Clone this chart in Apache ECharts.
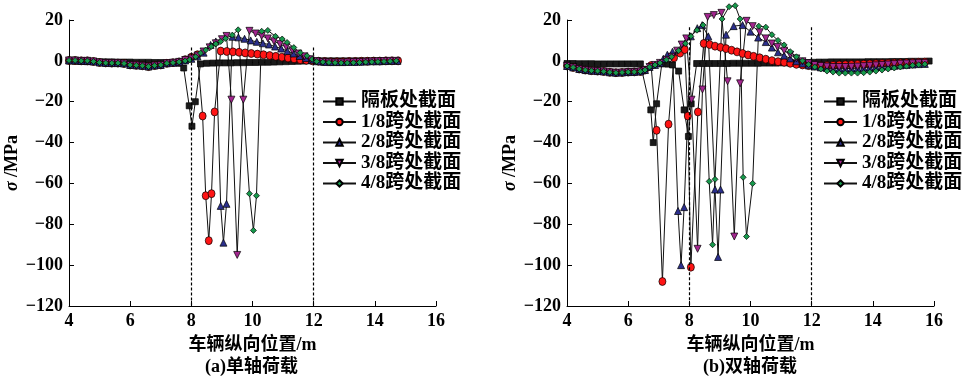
<!DOCTYPE html>
<html>
<head>
<meta charset="utf-8">
<script src="https://cdn.jsdelivr.net/npm/echarts@6/dist/echarts.min.js"></script>
<style>html,body{margin:0;padding:0;background:#fff}#c{width:974px;height:383px}</style>
</head>
<body>
<div id="c"></div>
<script>
// ---- data ----
const seriesNames = ['隔板处截面', '1/8跨处截面', '2/8跨处截面', '3/8跨处截面', '4/8跨处截面'];
const xTicks = [4, 6, 8, 10, 12, 14, 16];
const yTicks = [-120, -100, -80, -60, -40, -20, 0, 20];
const dashedPositions = [8, 12];
const captionLeft = '(a)单轴荷载';
const captionRight = '(b)双轴荷载';
const xName = '车辆纵向位置/m';

// (a) single axle
const leftDiaphragm = [[4.0,0],[4.2,-0.2],[4.4,-0.3],[4.6,-0.4],[4.8,-0.4],[5.0,-0.5],[5.2,-0.5],[5.4,-0.5],[5.6,-0.6],[5.8,-0.6],[6.0,-0.6],[6.2,-0.7],[6.4,-0.7],[6.6,-0.7],[6.8,-0.8],[7.0,-0.8],[7.2,-0.9],[7.4,-1.0],[7.6,-1.2],[7.75,-3.5],[7.93,-22],[8.02,-32],[8.13,-20],[8.3,-1.5],[8.5,-1.2],[8.7,-1.1],[8.9,-1.0],[9.1,-1.0],[9.3,-1.0],[9.5,-0.9],[9.7,-0.9],[9.9,-0.8],[10.1,-0.8],[10.3,-0.7],[10.5,-0.7],[10.7,-0.6],[10.9,-0.5],[11.1,-0.4],[11.3,-0.3],[11.5,-0.2],[11.7,-0.1],[11.9,0],[12.1,0],[12.3,0],[12.5,0],[12.7,0],[12.9,0],[13.1,0],[13.3,0],[13.5,0],[13.7,0],[13.9,0],[14.1,0],[14.3,0],[14.5,0],[14.7,0]];
const leftSpan1 = [[4.0,0.2],[4.2,0.2],[4.4,0],[4.6,0],[4.8,-0.3],[5.0,-0.8],[5.2,-1.0],[5.4,-1.1],[5.6,-1.1],[5.8,-1.3],[6.0,-2.0],[6.2,-2.2],[6.4,-2.4],[6.6,-2.8],[6.8,-2.3],[7.0,-2.0],[7.2,-1.2],[7.4,-0.9],[7.6,-0.5],[7.8,0.6],[8.0,1.8],[8.2,3.0],[8.37,-27],[8.47,-66],[8.57,-88],[8.66,-65],[8.76,-25],[8.96,4.8],[9.16,4.6],[9.36,4.4],[9.56,4.2],[9.76,3.9],[9.96,3.6],[10.16,3.3],[10.36,3.0],[10.56,2.6],[10.76,2.2],[10.96,1.8],[11.16,1.4],[11.36,1.0],[11.56,0.6],[11.76,0.3],[11.96,0],[12.16,-0.2],[12.36,-0.3],[12.56,-0.4],[12.76,-0.4],[12.96,-0.4],[13.16,-0.3],[13.36,-0.3],[13.56,-0.2],[13.76,-0.2],[13.96,-0.1],[14.16,-0.1],[14.36,0],[14.56,0],[14.76,0]];
const leftSpan2 = [[4.0,0.2],[4.2,0.2],[4.4,0],[4.6,0],[4.8,-0.3],[5.0,-0.8],[5.2,-1.0],[5.4,-1.1],[5.6,-1.1],[5.8,-1.3],[6.0,-2.0],[6.2,-2.2],[6.4,-2.4],[6.6,-2.8],[6.8,-2.3],[7.0,-2.0],[7.2,-1.2],[7.4,-0.9],[7.6,-0.5],[7.8,0.2],[8.0,1.0],[8.2,2.2],[8.4,4.0],[8.63,7.8],[8.8,9.5],[8.96,-71],[9.05,-89],[9.15,-70],[9.34,11.8],[9.54,11.5],[9.74,10.8],[9.94,10.0],[10.14,9.3],[10.34,8.6],[10.54,8.0],[10.74,7.0],[10.94,6.0],[11.14,4.8],[11.34,3.6],[11.54,2.4],[11.74,1.4],[11.94,0.5],[12.14,-0.2],[12.34,-0.5],[12.54,-0.6],[12.74,-0.6],[12.94,-0.6],[13.14,-0.5],[13.34,-0.5],[13.54,-0.4],[13.74,-0.3],[13.94,-0.2],[14.14,-0.2],[14.34,-0.1],[14.54,0],[14.74,0]];
const leftSpan3 = [[4.0,0.2],[4.2,0.2],[4.4,0],[4.6,0],[4.8,-0.3],[5.0,-0.8],[5.2,-1.0],[5.4,-1.1],[5.6,-1.1],[5.8,-1.3],[6.0,-2.0],[6.2,-2.2],[6.4,-2.4],[6.6,-2.8],[6.8,-2.3],[7.0,-2.0],[7.2,-1.2],[7.4,-0.9],[7.6,-0.5],[7.8,0.4],[8.0,1.2],[8.2,2.6],[8.4,4.6],[8.6,6.6],[8.8,8.6],[9.0,10.6],[9.15,12.2],[9.31,-19],[9.5,-95],[9.7,-19],[9.9,14.7],[10.1,13.4],[10.3,12.2],[10.5,11.0],[10.7,9.6],[10.9,8.2],[11.1,6.8],[11.3,5.2],[11.5,3.6],[11.7,2.2],[11.9,0.8],[12.1,-0.2],[12.3,-0.5],[12.5,-0.7],[12.7,-0.8],[12.9,-0.8],[13.1,-0.7],[13.3,-0.6],[13.5,-0.5],[13.7,-0.4],[13.9,-0.3],[14.1,-0.2],[14.3,-0.1],[14.5,0],[14.7,0]];
const leftSpan4 = [[4.0,0.2],[4.2,0.2],[4.4,0],[4.6,0],[4.8,-0.3],[5.0,-0.8],[5.2,-1.0],[5.4,-1.1],[5.6,-1.1],[5.8,-1.3],[6.0,-2.0],[6.2,-2.2],[6.4,-2.4],[6.6,-2.8],[6.8,-2.3],[7.0,-2.0],[7.2,-1.2],[7.4,-0.9],[7.6,-0.5],[7.8,0],[7.95,0.6],[8.14,2.0],[8.3,3.8],[8.47,5.3],[8.65,7.0],[8.8,8.3],[8.96,9.5],[9.12,11.0],[9.34,12.6],[9.53,15.2],[9.9,-65],[10.03,-83],[10.13,-66],[10.3,14.5],[10.5,14.9],[10.75,12.0],[10.97,10.7],[11.13,9.0],[11.35,6.5],[11.56,4.0],[11.78,2.5],[11.95,0.8],[12.1,-0.3],[12.3,-0.6],[12.5,-0.8],[12.7,-0.9],[12.9,-1.0],[13.1,-1.0],[13.3,-0.9],[13.5,-0.8],[13.7,-0.6],[13.9,-0.5],[14.1,-0.4],[14.3,-0.3],[14.5,-0.2],[14.7,0]];

// (b) double axle
const rightDiaphragm = [[4.0,-1.3],[4.2,-1.3],[4.4,-1.4],[4.6,-1.4],[4.8,-1.4],[5.0,-1.5],[5.2,-1.5],[5.4,-1.5],[5.6,-1.5],[5.8,-1.5],[6.0,-1.5],[6.2,-1.5],[6.4,-1.5],[6.74,-24],[6.82,-40],[6.93,-21],[7.1,-1.5],[7.3,-1.6],[7.45,-2],[7.65,-5],[7.83,-24],[7.97,-37],[8.06,-21],[8.24,-1.3],[8.44,-1.3],[8.64,-1.3],[8.84,-1.3],[9.04,-1.3],[9.24,-1.3],[9.44,-1.2],[9.64,-1.2],[9.84,-1.2],[10.04,-1.2],[10.24,-1.2],[10.44,-1.1],[10.64,-1.1],[10.84,-1.1],[11.04,-1.0],[11.24,-1.0],[11.44,-1.0],[11.64,-0.9],[11.84,-0.8],[12.04,-0.7],[12.24,-0.6],[12.44,-0.6],[12.64,-0.5],[12.84,-0.5],[13.04,-0.5],[13.24,-0.5],[13.44,-0.5],[13.64,-0.5],[13.84,-0.4],[14.04,-0.4],[14.24,-0.4],[14.44,-0.4],[14.64,-0.3],[14.84,-0.3],[15.04,-0.3],[15.24,-0.2],[15.44,-0.2],[15.64,-0.2],[15.84,-0.1]];
const rightSpan1 = [[4.0,-2.5],[4.2,-3.2],[4.4,-4.0],[4.6,-4.5],[4.8,-4.8],[5.0,-5.0],[5.2,-5.2],[5.4,-5.6],[5.6,-5.8],[5.8,-5.7],[6.0,-5.5],[6.2,-5.4],[6.4,-5.2],[6.55,-4.5],[6.75,-2.3],[6.93,-34],[7.12,-108],[7.32,-31],[7.5,1.5],[7.7,3.8],[7.85,5.5],[7.95,-27],[8.05,-101],[8.28,-25],[8.47,8.5],[8.66,8.0],[8.84,7.2],[9.02,6.6],[9.2,6.0],[9.38,5.2],[9.56,4.4],[9.74,3.6],[9.92,2.9],[10.1,2.2],[10.3,1.5],[10.5,0.8],[10.7,0.1],[10.9,-0.4],[11.1,-0.7],[11.3,-1.2],[11.5,-1.7],[11.7,-2.0],[11.9,-2.3],[12.1,-2.4],[12.3,-2.4],[12.5,-2.3],[12.7,-2.2],[12.9,-2.0],[13.1,-1.9],[13.3,-1.8],[13.5,-1.7],[13.7,-1.6],[13.9,-1.5],[14.1,-1.4],[14.3,-1.3],[14.5,-1.2],[14.7,-1.1],[14.9,-1.0],[15.1,-0.9],[15.3,-0.8],[15.5,-0.7],[15.7,-0.6]];
const rightSpan2 = [[4.0,-2.5],[4.2,-3.2],[4.4,-4.0],[4.6,-4.5],[4.8,-4.8],[5.0,-5.0],[5.2,-5.2],[5.4,-5.6],[5.6,-5.8],[5.8,-5.7],[6.0,-5.5],[6.2,-5.4],[6.4,-5.2],[6.55,-4.5],[6.7,-3.0],[6.88,-2.0],[7.04,-1.0],[7.15,1.0],[7.28,3.0],[7.45,4.5],[7.63,-73.5],[7.73,-100],[7.83,-71.6],[8.05,12.0],[8.26,16.0],[8.42,17.5],[8.62,12.0],[8.84,-63],[8.94,-96],[9.02,-63],[9.2,12.8],[9.45,17.0],[9.74,17.5],[10.0,14.3],[10.25,11.4],[10.5,9.2],[10.7,6.5],[10.9,4.2],[11.1,2.6],[11.3,1.2],[11.5,-0.2],[11.7,-1.3],[11.9,-2.2],[12.1,-2.8],[12.3,-3.2],[12.5,-3.5],[12.7,-3.7],[12.9,-3.8],[13.1,-3.8],[13.3,-3.7],[13.5,-3.6],[13.7,-3.4],[13.9,-3.2],[14.1,-3.0],[14.3,-2.8],[14.5,-2.6],[14.7,-2.4],[14.9,-2.2],[15.1,-2.0],[15.3,-1.8],[15.5,-1.6],[15.7,-1.5]];
const rightSpan3 = [[4.0,-2.5],[4.2,-3.2],[4.4,-4.0],[4.6,-4.5],[4.8,-4.8],[5.0,-5.0],[5.2,-5.2],[5.4,-5.6],[5.6,-5.8],[5.8,-5.7],[6.0,-5.5],[6.2,-5.4],[6.4,-5.2],[6.55,-4.5],[6.7,-3.0],[6.88,-2.0],[7.04,-1.0],[7.25,0.5],[7.42,2.0],[7.6,5.0],[7.75,8.0],[7.9,11.0],[8.07,-19],[8.27,-92],[8.43,-14],[8.6,21.5],[8.8,22.4],[9.05,23.5],[9.25,-10],[9.47,-86],[9.66,-11],[9.87,19.6],[10.07,17.0],[10.3,14.0],[10.5,11.0],[10.7,8.5],[10.88,6.8],[11.1,5.0],[11.3,3.0],[11.5,1.2],[11.7,-0.2],[11.9,-1.2],[12.1,-2.0],[12.3,-2.5],[12.5,-2.8],[12.7,-3.0],[12.9,-3.0],[13.1,-3.0],[13.3,-2.9],[13.5,-2.8],[13.7,-2.6],[13.9,-2.4],[14.1,-2.2],[14.3,-2.0],[14.5,-1.8],[14.7,-1.6],[14.9,-1.4],[15.1,-1.3],[15.3,-1.2],[15.5,-1.1],[15.7,-1.0]];
const rightSpan4 = [[4.0,-2.5],[4.2,-3.2],[4.4,-4.0],[4.6,-4.5],[4.8,-4.8],[5.0,-5.0],[5.2,-5.2],[5.4,-5.6],[5.6,-5.8],[5.8,-5.7],[6.0,-5.5],[6.2,-5.4],[6.4,-5.2],[6.55,-4.5],[6.7,-3.0],[6.88,-2.0],[7.04,-1.0],[7.25,0.5],[7.42,2.0],[7.65,5.0],[7.87,8.5],[8.05,12.0],[8.25,15.0],[8.45,17.5],[8.65,-59],[8.76,-90],[8.84,-58],[9.07,20.5],[9.3,26.5],[9.5,27.0],[9.66,20.5],[9.76,-57],[9.87,-86],[10.07,-60],[10.27,17.0],[10.5,16.5],[10.7,12.8],[10.9,10.0],[11.1,7.8],[11.3,4.5],[11.5,2.0],[11.7,0],[11.9,-1.8],[12.1,-3.0],[12.3,-4.0],[12.5,-5.0],[12.7,-5.5],[12.9,-6.0],[13.1,-6.0],[13.3,-6.0],[13.5,-6.0],[13.7,-5.8],[13.9,-5.5],[14.1,-5.0],[14.3,-4.5],[14.5,-4.0],[14.7,-3.5],[14.9,-3.0],[15.1,-2.6],[15.3,-2.2],[15.5,-1.9],[15.7,-1.6]];

const leftData = [leftDiaphragm, leftSpan1, leftSpan2, leftSpan3, leftSpan4];
const rightData = [rightDiaphragm, rightSpan1, rightSpan2, rightSpan3, rightSpan4];
const dashedTopLeft = 6.5;
const dashedTopRight = 16.5;

// ---- styles ----
const FONT = '"Liberation Serif", "Noto Sans CJK SC", serif';
const markerStyles = [
  {symbol: 'rect', size: 6, color: '#1a1a1a'},
  {symbol: 'circle', size: [7, 8], color: '#ff1414'},
  {symbol: 'triangle', size: 7, color: '#2b2f8c'},
  {symbol: 'path://M0,0L10,0L5,10Z', size: 7, color: '#a3268f'},
  {symbol: 'diamond', size: 6, color: '#17994c'}
];

function makeSeries(data, i, axis, dashedTop) {
  const st = markerStyles[i];
  const s = {
    type: 'line', name: seriesNames[i], data: data,
    xAxisIndex: axis, yAxisIndex: axis,
    symbol: st.symbol, symbolSize: st.size, showSymbol: true, clip: false,
    lineStyle: {color: '#111', width: 1},
    itemStyle: {color: st.color, borderColor: '#000', borderWidth: 0.7},
    emphasis: {disabled: true}, silent: true, animation: false
  };
  if (i === 0) {
    s.markLine = {
      silent: true, symbol: 'none', label: {show: false},
      lineStyle: {color: '#000', width: 1.2, type: [3, 2]},
      data: dashedPositions.map(p => [{coord: [p, dashedTop]}, {coord: [p, yTicks[0]]}])
    };
  }
  return s;
}

const series = [];
leftData.forEach((d, i) => series.push(makeSeries(d, i, 0, dashedTopLeft)));
rightData.forEach((d, i) => series.push(makeSeries(d, i, 1, dashedTopRight)));

const grids = [
  {left: 69, top: 20, width: 367, height: 286},
  {left: 567, top: 20, width: 367, height: 286}
];
function xAxisDef(idx) {
  return {
    type: 'value', gridIndex: idx, min: xTicks[0], max: xTicks[xTicks.length - 1], interval: 2,
    name: xName, nameLocation: 'middle', nameGap: 30,
    nameTextStyle: {fontFamily: FONT, fontWeight: 'bold', fontSize: 18, color: '#000'},
    axisLine: {onZero: false, lineStyle: {color: '#000', width: 1}},
    axisTick: {inside: true, length: 5, lineStyle: {color: '#000'}},
    axisLabel: {fontFamily: FONT, fontWeight: 'bold', fontSize: 18, color: '#000', margin: 6},
    splitLine: {show: false}
  };
}
function yAxisDef(idx) {
  return {
    type: 'value', gridIndex: idx, min: yTicks[0], max: yTicks[yTicks.length - 1], interval: 20,
    name: '{i|σ} /MPa', nameLocation: 'middle', nameGap: 48, nameRotate: 90,
    nameTextStyle: {fontFamily: FONT, fontWeight: 'bold', fontSize: 18, color: '#000',
      rich: {i: {fontFamily: FONT, fontWeight: 'bold', fontStyle: 'italic', fontSize: 18, color: '#000'}}},
    axisLine: {onZero: false, lineStyle: {color: '#000', width: 1}},
    axisTick: {inside: true, length: 5, lineStyle: {color: '#000'}},
    axisLabel: {fontFamily: FONT, fontWeight: 'bold', fontSize: 18, color: '#000', margin: 6,
      formatter: v => String(v).replace('-', '\u2212')},
    splitLine: {show: false}
  };
}
function legendDef(left) {
  return {
    left: left, top: 87, orient: 'vertical', itemWidth: 33, itemHeight: 8, itemGap: 1.5,
    data: seriesNames, selectedMode: false,
    textStyle: {fontFamily: FONT, fontWeight: 'bold', fontSize: 19, color: '#000', lineHeight: 16}
  };
}

const chart = echarts.init(document.getElementById('c'), null, {renderer: 'canvas'});
chart.setOption({
  animation: false,
  backgroundColor: '#fff',
  grid: grids,
  xAxis: [xAxisDef(0), xAxisDef(1)],
  yAxis: [yAxisDef(0), yAxisDef(1)],
  legend: [legendDef(317), legendDef(818)],
  graphic: [
    {type: 'text', left: 253 - 48, top: 358, style: {text: captionLeft, font: 'bold 18px ' + FONT, fill: '#000'}},
    {type: 'text', left: 751 - 48, top: 358, style: {text: captionRight, font: 'bold 18px ' + FONT, fill: '#000'}}
  ],
  series: series
});
</script>
</body>
</html>
